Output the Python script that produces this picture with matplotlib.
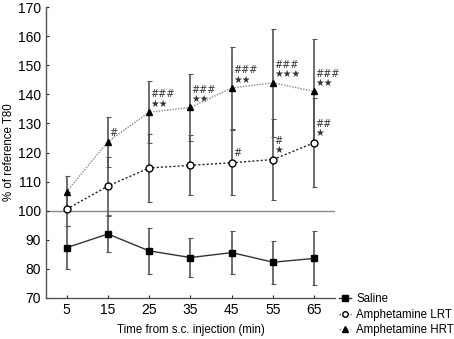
import matplotlib
matplotlib.use("Agg")
import matplotlib.pyplot as plt
from matplotlib.lines import Line2D

plt.rcParams['font.family'] = ['Liberation Sans', 'DejaVu Sans']

times = [5, 15, 25, 35, 45, 55, 65]
saline = [87.3, 92.0, 86.2, 83.9, 85.6, 82.3, 83.6]
saline_err = [7.4, 6.2, 7.8, 6.7, 7.4, 7.4, 9.3]
lrt = [100.5, 108.5, 114.7, 115.6, 116.5, 117.6, 123.4]
lrt_err = [5.9, 9.8, 11.8, 10.3, 11.2, 14.0, 15.3]
hrt = [106.6, 123.7, 133.9, 135.5, 142.2, 144.0, 141.0]
hrt_err = [5.2, 8.5, 10.7, 11.6, 14.1, 18.6, 18.0]
hrt_marks = ["", "#", "###\n★★", "###\n★★", "###\n★★", "###\n★★★", "###\n★★"]
lrt_marks = ["", "", "", "", "#", "#\n★", "##\n★"]
yticks = [70, 80, 90, 100, 110, 120, 130, 140, 150, 160, 170]

fig = plt.figure(figsize=(4.54, 3.39), dpi=100)
ax = fig.add_axes([0.1013, 0.121, 0.6366, 0.858])

ax.axhline(100, color='#888888', lw=1.0, zorder=1)

ekw = dict(ecolor='#555555', elinewidth=1.2, capsize=1.8, capthick=0.8)
ax.errorbar(times, hrt, yerr=hrt_err, fmt='none', zorder=2, **ekw)
ax.errorbar(times, lrt, yerr=lrt_err, fmt='none', zorder=2, **ekw)
ax.errorbar(times, saline, yerr=saline_err, fmt='none', zorder=2, **ekw)

ax.plot(times, saline, color='#333333', lw=1.0, marker='s', ms=5,
        mfc='black', mec='black', zorder=4)
ax.plot(times, lrt, color='#222222', lw=1.0, ls=(0, (1.5, 1.5)), marker='o', ms=5,
        mfc='white', mec='black', mew=1.0, zorder=4)
ax.plot(times, hrt, color='#888888', lw=1.0, ls=(0, (1, 1)), marker='^', ms=5,
        mfc='black', mec='black', zorder=4)

for t, v, m in zip(times, hrt, hrt_marks):
    if m:
        ax.text(t + 0.3, v + 1.2, m, fontsize=7, color='#333333', ha='left',
                va='bottom', linespacing=0.9, family=['DejaVu Sans'])
for t, v, m in zip(times, lrt, lrt_marks):
    if m:
        ax.text(t + 0.3, v + 1.5, m, fontsize=7, color='#333333', ha='left',
                va='bottom', linespacing=0.9, family=['DejaVu Sans'])

ax.set_xlim(0, 70)
ax.set_ylim(70, 170)
ax.set_xticks(times)
ax.set_yticks(yticks)
ax.tick_params(direction='in', length=2, width=0.8, labelsize=10, colors='#222222',
               labelcolor='black', pad=3.5)
for s in ['top', 'right']:
    ax.spines[s].set_visible(False)
for s in ['left', 'bottom']:
    ax.spines[s].set_color('#555555')
    ax.spines[s].set_linewidth(1.0)

ax.set_xlabel('Time from s.c. injection (min)', fontsize=8.3, labelpad=5)
ax.set_ylabel('% of reference T80', fontsize=8.3)
ax.yaxis.set_label_coords(-0.106, 0.5)

handles = [
    Line2D([], [], color='#333333', lw=1, marker='s', ms=4, mfc='black', mec='black'),
    Line2D([], [], color='#333333', lw=1, ls=':', marker='o', ms=4, mfc='white', mec='black'),
    Line2D([], [], color='#888888', lw=1, ls=':', marker='^', ms=4, mfc='black', mec='black'),
]
fig.legend(handles, ['Saline', 'Amphetamine LRT', 'Amphetamine HRT'],
           loc='upper left', bbox_to_anchor=(0.742, 0.1416), frameon=False,
           fontsize=8.3, handlelength=1.0, handletextpad=0.5, labelspacing=0.3,
           borderpad=0.2, borderaxespad=0)

fig.savefig('out.png', dpi=100)
